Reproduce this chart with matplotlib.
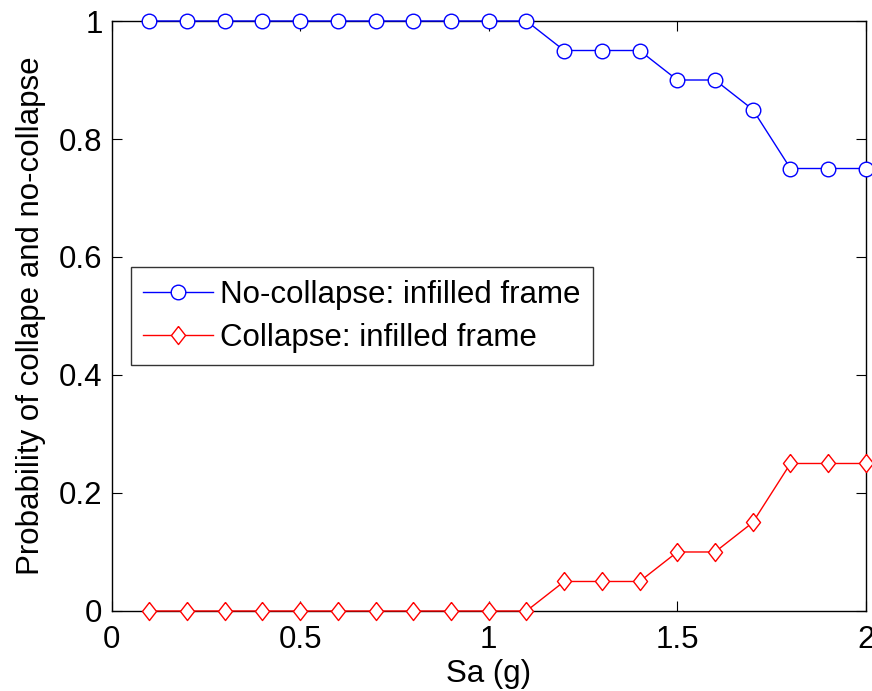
import matplotlib
matplotlib.use("Agg")
import matplotlib.pyplot as plt

sa = [0.1, 0.2, 0.3, 0.4, 0.5, 0.6, 0.7, 0.8, 0.9, 1.0,
      1.1, 1.2, 1.3, 1.4, 1.5, 1.6, 1.7, 1.8, 1.9, 2.0]
no_collapse = [1, 1, 1, 1, 1, 1, 1, 1, 1, 1,
               1, 0.95, 0.95, 0.95, 0.9, 0.9, 0.85, 0.75, 0.75, 0.75]
collapse = [0, 0, 0, 0, 0, 0, 0, 0, 0, 0,
            0, 0.05, 0.05, 0.05, 0.1, 0.1, 0.15, 0.25, 0.25, 0.25]
xticks = [0, 0.5, 1, 1.5, 2]
xtick_labels = ["0", "0.5", "1", "1.5", "2"]
yticks = [0, 0.2, 0.4, 0.6, 0.8, 1]
ytick_labels = ["0", "0.2", "0.4", "0.6", "0.8", "1"]

plt.rcParams['font.family'] = ['Liberation Sans', 'DejaVu Sans']
FS = 22.5

diamond = [(0, 1), (0.78, 0), (0, -1), (-0.78, 0), (0, 1)]

fig = plt.figure(figsize=(8.72, 6.91), dpi=100)
ax = fig.add_axes([0.128, 0.1158, 0.865, 0.8538])

ax.plot(sa, no_collapse, color='blue', lw=1, marker='o', ms=10.5,
        mfc='white', mec='blue', mew=1, label='No-collapse: infilled frame',
        clip_on=False, zorder=3)
ax.plot(sa, collapse, color='red', lw=1, marker=diamond, ms=13,
        mfc='white', mec='red', mew=1, label='Collapse: infilled frame',
        clip_on=False, zorder=3)

ax.set_xlim(0, 2)
ax.set_ylim(0, 1)
ax.set_xticks(xticks)
ax.set_xticklabels(xtick_labels)
ax.set_yticks(yticks)
ax.set_yticklabels(ytick_labels)
ax.tick_params(direction='in', top=True, right=True, labelsize=FS, length=7)
ax.tick_params(axis='x', pad=10)
ax.tick_params(axis='y', pad=6.5)
for s in ax.spines.values():
    s.set_linewidth(1)

ax.set_xlabel('Sa (g)', fontsize=FS, labelpad=3)
ax.set_ylabel('Probability of collape and no-collapse', fontsize=FS, labelpad=9)

leg = ax.legend(loc='upper left', bbox_to_anchor=(0.0252, 0.583), fontsize=FS,
                frameon=True, fancybox=False, edgecolor='black',
                borderpad=0.4, handlelength=2.25, handletextpad=0.2,
                labelspacing=0.42, borderaxespad=0)
leg.get_frame().set_linewidth(1)

fig.savefig('out.png', dpi=100)
